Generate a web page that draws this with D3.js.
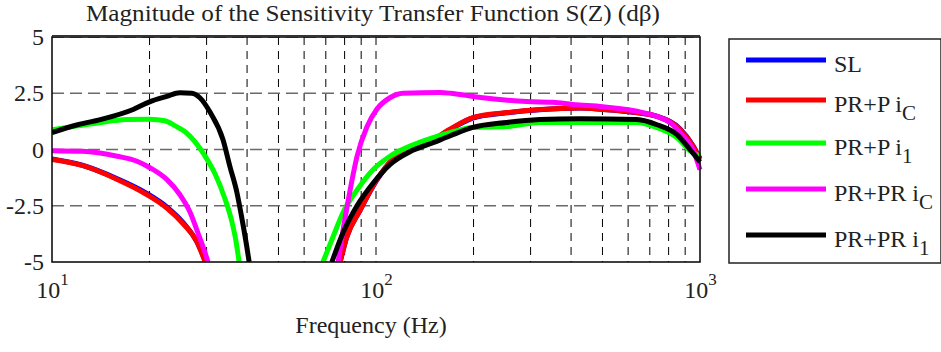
<!DOCTYPE html>
<html>
<head>
<meta charset="utf-8">
<script src="https://cdn.jsdelivr.net/npm/d3@7"></script>
<style>
  body { margin: 0; background: #fff; }
</style>
</head>
<body>
<svg id="chart" width="941" height="352"></svg>
<script>
// series data, [frequency Hz, magnitude dB]
const seriesNames = ['SL', 'PR+P iC', 'PR+P i1', 'PR+PR iC', 'PR+PR i1'];
const seriesColors = ['#0000ff', '#ff0000', '#00ff00', '#ff00ff', '#000000'];

const slLow = [[10, -0.42], [12.4, -0.7], [15.9, -1.3], [19.6, -1.95], [22.6, -2.55], [25.4, -3.25], [28, -4.1], [29.8, -5]];
const slHigh = [[77.5, -5], [81.2, -3.9], [89.3, -2.7], [100.7, -1.35], [112.6, -0.45], [130, 0.1], [150, 0.45], [169, 0.88], [199, 1.4], [253, 1.63], [320, 1.77], [427, 1.84], [502, 1.78], [639, 1.63], [737, 1.47], [867, 0.92], [951, 0.18], [1000, -0.4]];

const prpCLow = [[10, -0.44], [12.4, -0.71], [15.9, -1.33], [19.6, -2.0], [22.6, -2.6], [25.4, -3.3], [28, -4.1], [29.7, -5]];
const prpCHigh = [[77.5, -5], [81.2, -3.9], [89.3, -2.7], [100.7, -1.33], [112.6, -0.44], [130, 0.1], [150, 0.44], [169, 0.9], [199, 1.42], [253, 1.64], [320, 1.78], [427, 1.85], [502, 1.78], [639, 1.64], [737, 1.47], [867, 0.9], [951, 0.15], [1000, -0.44]];

const prp1Low = [[10, 0.88], [12, 1.05], [14.1, 1.2], [17, 1.33], [20, 1.35], [22.3, 1.28], [24, 1.05], [25.7, 0.8], [27.6, 0.35], [29.7, -0.3], [31.9, -1.1], [34.2, -2.2], [35.9, -3.2], [37, -4.1], [37.8, -5]];
const prp1High = [[68.6, -5], [73.6, -3.9], [79.1, -2.8], [87.4, -1.8], [97.9, -0.9], [110.4, -0.3], [127.3, 0.15], [150, 0.53], [169, 0.75], [199, 0.98], [253, 1.02], [320, 1.2], [427, 1.2], [639, 1.2], [737, 0.97], [848, 0.53], [931, -0.05], [1000, -0.3]];

const prprCLow = [[10, -0.05], [12.4, -0.08], [15.9, -0.3], [18.3, -0.52], [20, -0.8], [22.6, -1.33], [24.8, -2.0], [26.7, -2.8], [28.2, -3.7], [29.7, -4.6], [30.3, -5]];
const prprCHigh = [[76.4, -5], [79.1, -3.6], [83.2, -1.8], [87.4, -0.3], [93.7, 1.0], [100.7, 1.8], [110.4, 2.3], [121, 2.5], [158, 2.53], [170, 2.5], [199, 2.36], [241, 2.22], [292, 2.13], [352, 2.1], [405, 2.0], [502, 1.9], [639, 1.7], [737, 1.47], [808, 1.2], [887, 0.6], [951, 0], [1000, -0.9]];

const prpr1Low = [[10, 0.75], [12, 1.1], [14.1, 1.33], [17.8, 1.78], [20, 2.12], [22.6, 2.36], [24.8, 2.52], [27, 2.5], [28.6, 2.3], [30.8, 1.64], [33.7, 0.44], [35.4, -0.75], [37.2, -1.9], [38.6, -3.1], [39.9, -4.3], [40.6, -5]];
const prpr1High = [[73.1, -5], [79.1, -3.7], [87.4, -2.5], [97.9, -1.5], [110.4, -0.67], [127.3, -0.1], [150, 0.3], [169, 0.6], [199, 0.98], [253, 1.2], [320, 1.33], [427, 1.37], [639, 1.33], [737, 1.1], [848, 0.67], [931, 0], [1000, -0.55]];

const seriesData = [
  [slLow, slHigh],
  [prpCLow, prpCHigh],
  [prp1Low, prp1High],
  [prprCLow, prprCHigh],
  [prpr1Low, prpr1High]
];

const yTicks = [-5, -2.5, 0, 2.5, 5];
const xTicks = [10, 100, 1000];
const xMinor = [20, 30, 40, 50, 60, 70, 80, 90, 200, 300, 400, 500, 600, 700, 800, 900];

const PLOT_LEFT = 52;
const PLOT_RIGHT = 700;
const PLOT_TOP = 37;
const PLOT_BOTTOM = 262;
const FONT = 'Liberation Serif';
const TEXT_COLOR = '#222';

const svg = d3.select('#chart').attr('font-family', FONT).style('font-family', FONT);

const x = d3.scaleLog().domain([10, 1000]).range([PLOT_LEFT, PLOT_RIGHT]);
const y = d3.scaleLinear().domain([-5, 5]).range([PLOT_BOTTOM, PLOT_TOP]);

// every text in the chart goes through this so the family sticks
function serif(sel, size) {
  return sel.attr('font-family', FONT)
    .style('font-family', FONT)
    .attr('font-size', size)
    .style('font-size', size + 'px')
    .attr('fill', TEXT_COLOR);
}

// grid
const grid = svg.append('g');
grid.selectAll('line.v')
  .data(xMinor.concat([100]))
  .join('line')
  .attr('x1', d => x(d)).attr('x2', d => x(d))
  .attr('y1', PLOT_TOP).attr('y2', PLOT_BOTTOM)
  .attr('stroke', '#000')
  .attr('stroke-width', 1)
  .attr('stroke-dasharray', '8,6');

grid.selectAll('line.h')
  .data(yTicks.slice(1))
  .join('line')
  .attr('x1', PLOT_LEFT).attr('x2', PLOT_RIGHT)
  .attr('y1', d => y(d)).attr('y2', d => y(d))
  .attr('stroke', '#6a6a6a')
  .attr('stroke-width', 1.4)
  .attr('stroke-dasharray', '12,6');

// curves
const clipId = 'plotClip';
svg.append('clipPath').attr('id', clipId)
  .append('rect')
  .attr('x', PLOT_LEFT).attr('y', PLOT_TOP - 3)
  .attr('width', PLOT_RIGHT - PLOT_LEFT + 3)
  .attr('height', PLOT_BOTTOM - PLOT_TOP + 3);

const line = d3.line()
  .x(d => x(d[0]))
  .y(d => y(d[1]))
  .curve(d3.curveMonotoneX);

const curves = svg.append('g').attr('clip-path', `url(#${clipId})`);
seriesData.forEach((parts, i) => {
  parts.forEach(part => {
    curves.append('path')
      .attr('d', line(part))
      .attr('fill', 'none')
      .attr('stroke', seriesColors[i])
      .attr('stroke-width', 5)
      .attr('stroke-linejoin', 'round');
  });
});

// frame
svg.append('rect')
  .attr('x', PLOT_LEFT).attr('y', PLOT_TOP)
  .attr('width', PLOT_RIGHT - PLOT_LEFT)
  .attr('height', PLOT_BOTTOM - PLOT_TOP)
  .attr('fill', 'none')
  .attr('stroke', '#000')
  .attr('stroke-width', 1.5);
svg.append('line')
  .attr('x1', PLOT_LEFT).attr('x2', PLOT_RIGHT)
  .attr('y1', PLOT_TOP - 1).attr('y2', PLOT_TOP - 1)
  .attr('stroke', '#333').attr('stroke-width', 2);

// axes
const yAxis = d3.axisLeft(y)
  .tickValues(yTicks)
  .tickSize(0)
  .tickPadding(8)
  .tickFormat(d => String(d));
const yG = svg.append('g').attr('transform', `translate(${PLOT_LEFT},0)`).call(yAxis);
yG.attr('font-family', FONT).attr('font-size', 24);
yG.select('.domain').remove();
serif(yG.selectAll('text'), 24);

const xAxis = d3.axisBottom(x)
  .tickValues(xTicks)
  .tickSize(0)
  .tickFormat(() => '');
const xG = svg.append('g').attr('transform', `translate(0,${PLOT_BOTTOM})`).call(xAxis);
xG.attr('font-family', FONT).attr('font-size', 24);
xG.select('.domain').remove();
xG.selectAll('.tick text').remove();
serif(xG.selectAll('.tick').append('text'), 24)
  .attr('y', 36)
  .attr('text-anchor', 'middle')
  .each(function (d) {
    const t = d3.select(this);
    t.append('tspan').text('10');
    t.append('tspan').attr('dy', -13).style('font-size', '17px').text(String(Math.round(Math.log10(d))));
  });

// title + x label
serif(svg.append('text'), 24)
  .attr('x', 373)
  .attr('y', 21)
  .attr('text-anchor', 'middle')
  .attr('textLength', 574)
  .attr('lengthAdjust', 'spacingAndGlyphs')
  .text('Magnitude of the Sensitivity Transfer Function S(Z) (dβ)');

serif(svg.append('text'), 24)
  .attr('x', 371)
  .attr('y', 333)
  .attr('text-anchor', 'middle')
  .text('Frequency (Hz)');

// legend
const legend = svg.append('g');
legend.append('rect')
  .attr('x', 729).attr('y', 39)
  .attr('width', 212).attr('height', 224)
  .attr('fill', '#fff')
  .attr('stroke', '#222')
  .attr('stroke-width', 1.5);

const legendRows = [60, 100, 143, 189, 235];
seriesNames.forEach((name, i) => {
  const ly = legendRows[i];
  legend.append('line')
    .attr('x1', 746).attr('x2', 826)
    .attr('y1', ly).attr('y2', ly)
    .attr('stroke', seriesColors[i])
    .attr('stroke-width', 5);
  const t = serif(legend.append('text'), 24)
    .attr('x', 834).attr('y', ly + 12);
  const m = name.match(/^(.* i)([C1])$/);
  if (m) {
    t.append('tspan').text(m[1]);
    t.append('tspan').attr('dy', 8).style('font-size', '21px').text(m[2]);
  } else {
    t.text(name);
  }
});
</script>
</body>
</html>
